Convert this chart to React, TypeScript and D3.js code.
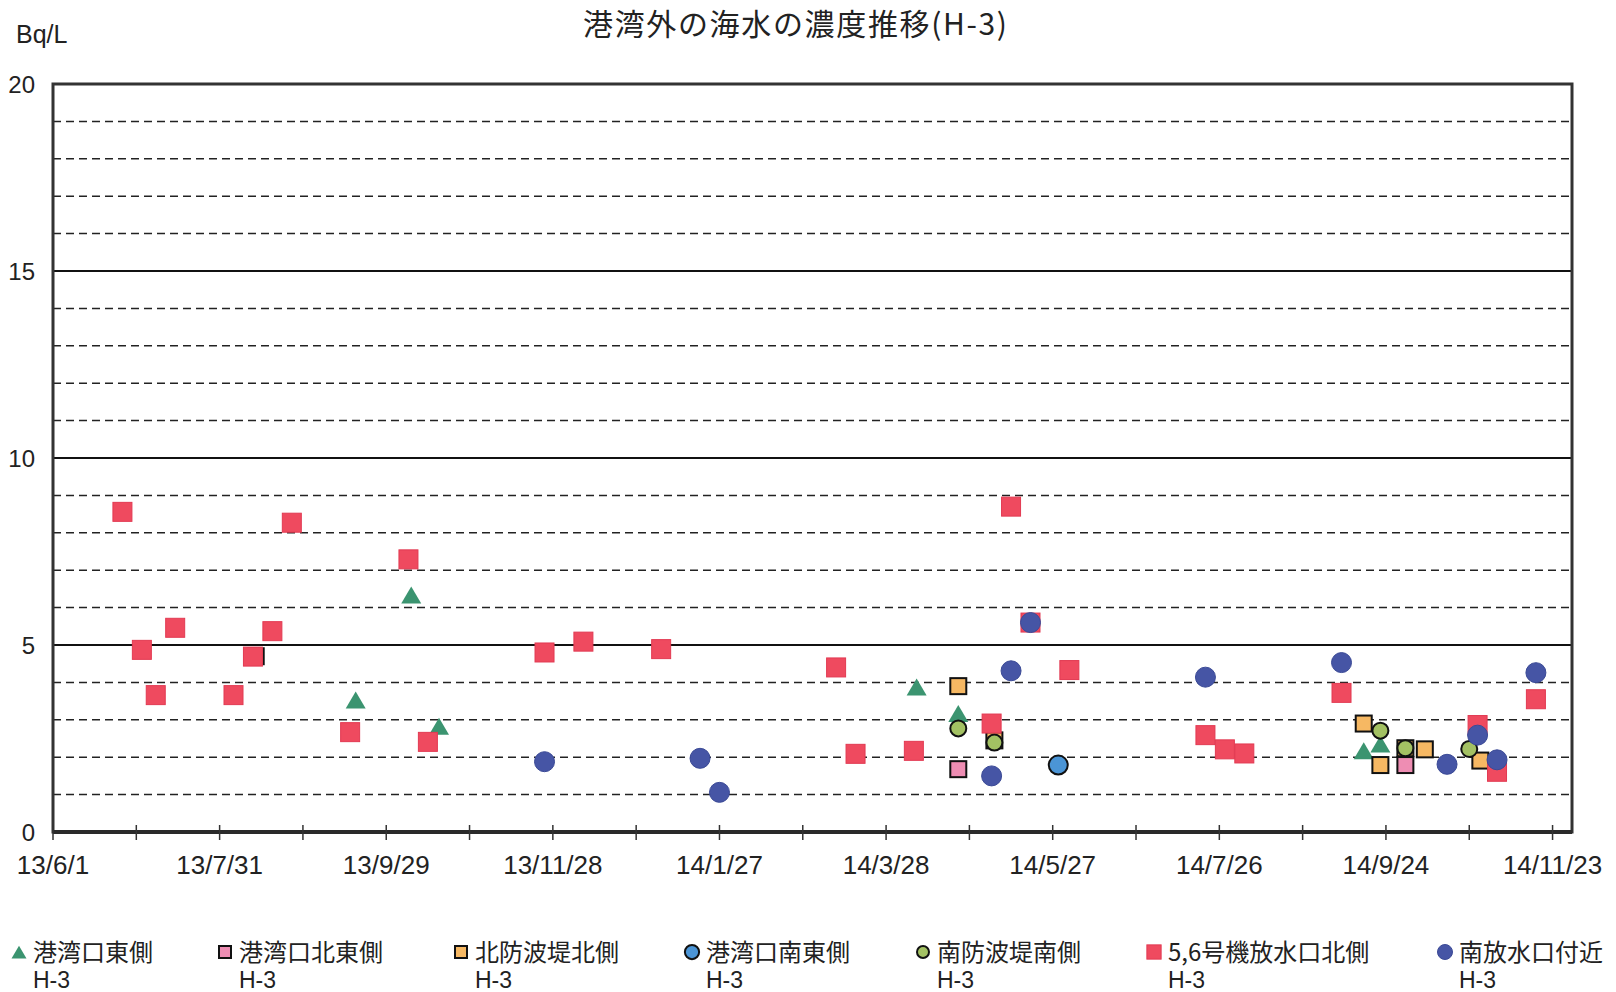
import * as d3 from "d3";

// H-3 concentration outside the port (Bq/L)
const yTicks = [0, 5, 10, 15, 20];
const yDashed = [1, 2, 3, 4, 6, 7, 8, 9, 11, 12, 13, 14, 16, 17, 18, 19];
const axisStart = "2013-06-01";
const axisEnd = "2014-11-30";
const majorDays = 60;
const minorDays = 30;

const eastMouth: [string, number][] = [
  ["2013-09-18", 3.53],
  ["2013-10-08", 6.34],
  ["2013-10-18", 2.83],
  ["2014-04-08", 3.88],
  ["2014-04-23", 3.17],
  ["2014-09-16", 2.17],
  ["2014-09-22", 2.35],
];

const northEastMouth: [string, number][] = [
  ["2014-04-23", 1.68],
  ["2014-10-01", 1.79],
];

const northBreakwater: [string, number][] = [
  ["2013-08-13", 4.7],
  ["2014-04-23", 3.9],
  ["2014-05-06", 2.45],
  ["2014-09-16", 2.9],
  ["2014-09-22", 1.79],
  ["2014-10-01", 2.24],
  ["2014-10-08", 2.21],
  ["2014-10-28", 1.91],
];

const southEastMouth: [string, number][] = [["2014-05-29", 1.79]];

const southBreakwater: [string, number][] = [
  ["2014-04-23", 2.77],
  ["2014-05-06", 2.39],
  ["2014-09-22", 2.71],
  ["2014-10-01", 2.24],
  ["2014-10-24", 2.22],
];

const unit56Outlet: [string, number][] = [
  ["2013-06-26", 8.56],
  ["2013-07-03", 4.87],
  ["2013-07-08", 3.66],
  ["2013-07-15", 5.46],
  ["2013-08-05", 3.66],
  ["2013-08-12", 4.69],
  ["2013-08-19", 5.37],
  ["2013-08-26", 8.27],
  ["2013-09-16", 2.67],
  ["2013-10-07", 7.29],
  ["2013-10-14", 2.41],
  ["2013-11-25", 4.8],
  ["2013-12-09", 5.09],
  ["2014-01-06", 4.89],
  ["2014-03-10", 4.4],
  ["2014-03-17", 2.09],
  ["2014-04-07", 2.17],
  ["2014-05-05", 2.9],
  ["2014-05-12", 8.7],
  ["2014-05-19", 5.6],
  ["2014-06-02", 4.33],
  ["2014-07-21", 2.59],
  ["2014-07-28", 2.21],
  ["2014-08-04", 2.1],
  ["2014-09-08", 3.72],
  ["2014-10-27", 2.86],
  ["2014-11-03", 1.61],
  ["2014-11-17", 3.55],
];

const southOutlet: [string, number][] = [
  ["2013-11-25", 1.88],
  ["2014-01-20", 1.97],
  ["2014-01-27", 1.06],
  ["2014-05-05", 1.5],
  ["2014-05-12", 4.31],
  ["2014-05-19", 5.6],
  ["2014-07-21", 4.14],
  ["2014-09-08", 4.53],
  ["2014-10-16", 1.81],
  ["2014-10-27", 2.59],
  ["2014-11-03", 1.93],
  ["2014-11-17", 4.26],
];

const seriesNames = [
  "港湾口東側",
  "港湾口北東側",
  "北防波堤北側",
  "港湾口南東側",
  "南防波堤南側",
  "5,6号機放水口北側",
  "南放水口付近",
];

const seriesData = [
  eastMouth,
  northEastMouth,
  northBreakwater,
  southEastMouth,
  southBreakwater,
  unit56Outlet,
  southOutlet,
];

type Shape = "triangle" | "square" | "circle";
interface MarkerStyle {
  shape: Shape;
  size: number;
  fill: string;
  stroke: string;
  strokeWidth: number;
}

const markerStyles: MarkerStyle[] = [
  { shape: "triangle", size: 20, fill: "#3b9470", stroke: "none", strokeWidth: 0 },
  { shape: "square", size: 16, fill: "#ee8db3", stroke: "#111", strokeWidth: 2 },
  { shape: "square", size: 16, fill: "#f6b863", stroke: "#111", strokeWidth: 2 },
  { shape: "circle", size: 19, fill: "#4b95d6", stroke: "#111", strokeWidth: 2 },
  { shape: "circle", size: 16, fill: "#a3c163", stroke: "#111", strokeWidth: 2 },
  { shape: "square", size: 19, fill: "#ef4a5f", stroke: "#e23a52", strokeWidth: 1 },
  { shape: "circle", size: 20, fill: "#4655a5", stroke: "#3b4a96", strokeWidth: 1 },
];

// legend layout (marker centre x of each entry)
const legendMarkerX = [19, 225, 461, 692, 923, 1154, 1445];

const W = 1616;
const H = 992;
const plot = { left: 53, right: 1572, top: 84, bottom: 832 };

const parse = d3.utcParse("%Y-%m-%d");
const fmt = d3.utcFormat("%y/%-m/%-d");

function Marker({ st, x, y, scale = 1 }: { st: MarkerStyle; x: number; y: number; scale?: number }) {
  const s = st.size * scale;
  if (st.shape === "circle") {
    return <circle cx={x} cy={y} r={s / 2} fill={st.fill} stroke={st.stroke} strokeWidth={st.strokeWidth} />;
  }
  if (st.shape === "square") {
    return (
      <rect x={x - s / 2} y={y - s / 2} width={s} height={s} fill={st.fill} stroke={st.stroke} strokeWidth={st.strokeWidth} />
    );
  }
  const h = s * 0.85;
  const pts = `${x},${y - h / 2} ${x + s / 2},${y + h / 2} ${x - s / 2},${y + h / 2}`;
  return <polygon points={pts} fill={st.fill} stroke={st.stroke} />;
}

export default function App() {
  const t0 = parse(axisStart)!;
  const t1 = parse(axisEnd)!;
  const x = d3.scaleUtc().domain([t0, t1]).range([plot.left, plot.right]);
  const y = d3.scaleLinear().domain([0, 20]).range([plot.bottom, plot.top]);

  const minorTicks = d3.range(0, d3.utcDay.count(t0, t1) + 1, minorDays).map((d) => d3.utcDay.offset(t0, d));
  const majorTicks = minorTicks.filter((_, i) => (i * minorDays) % majorDays === 0);

  const numFont = "'Liberation Sans', Arial, sans-serif";
  const jpFont = "'Noto Sans CJK JP', 'Noto Sans', sans-serif";

  return (
    <svg width={W} height={H} style={{ position: "absolute", left: 0, top: 0, background: "#fff" }}>
      <rect width={W} height={H} fill="#fff" />

      <text x={583} y={35} fontFamily={jpFont} fontSize={30} fill="#222" textLength={424} lengthAdjust="spacing">
        港湾外の海水の濃度推移(H-3)
      </text>
      <text x={16} y={43} fontFamily={numFont} fontSize={25} fill="#222">
        Bq/L
      </text>

      {/* dashed minor grid */}
      {yDashed.map((v) => (
        <line key={`d${v}`} x1={plot.left} x2={plot.right} y1={y(v)} y2={y(v)} stroke="#222" strokeWidth={1.5} strokeDasharray="8,5" />
      ))}
      {/* solid major grid */}
      {yTicks
        .filter((v) => v > 0 && v < 20)
        .map((v) => (
          <line key={`s${v}`} x1={plot.left} x2={plot.right} y1={y(v)} y2={y(v)} stroke="#111" strokeWidth={2} />
        ))}

      {/* plot border */}
      <rect
        x={plot.left}
        y={plot.top}
        width={plot.right - plot.left}
        height={plot.bottom - plot.top}
        fill="none"
        stroke="#333"
        strokeWidth={3}
      />
      <line x1={plot.left} x2={plot.right} y1={plot.bottom} y2={plot.bottom} stroke="#2a2a2a" strokeWidth={4} />

      {/* x ticks */}
      {minorTicks.map((d, i) => (
        <line key={`t${i}`} x1={x(d)} x2={x(d)} y1={plot.bottom - 7} y2={plot.bottom + 8} stroke="#333" strokeWidth={1.5} />
      ))}
      {majorTicks.map((d, i) => (
        <text key={`l${i}`} x={x(d)} y={874} textAnchor="middle" fontFamily={numFont} fontSize={26} fill="#222">
          {fmt(d)}
        </text>
      ))}

      {/* y labels */}
      {yTicks.map((v) => (
        <text key={`y${v}`} x={35} y={y(v) + 9} textAnchor="end" fontFamily={numFont} fontSize={24} fill="#222">
          {v}
        </text>
      ))}

      {/* markers */}
      {seriesData.map((ser, si) => (
        <g key={`ser${si}`}>
          {ser.map(([d, v], pi) => (
            <Marker key={pi} st={markerStyles[si]} x={x(parse(d)!)} y={y(v)} />
          ))}
        </g>
      ))}

      {/* legend */}
      {seriesNames.map((name, i) => (
        <g key={`lg${i}`}>
          <Marker st={markerStyles[i]} x={legendMarkerX[i]} y={952} scale={0.75} />
          <text x={legendMarkerX[i] + 14} y={961} fontFamily={jpFont} fontSize={24} fill="#222">
            {name}
          </text>
          <text x={legendMarkerX[i] + 14} y={988} fontFamily={numFont} fontSize={23} fill="#222">
            H-3
          </text>
        </g>
      ))}
    </svg>
  );
}
